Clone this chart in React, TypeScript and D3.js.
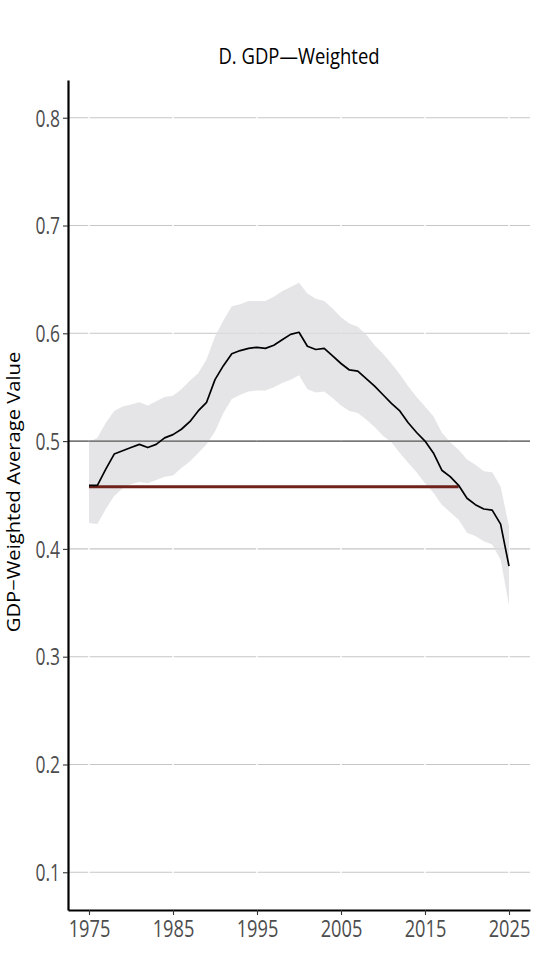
import React, { useEffect, useRef } from 'react';
import * as d3 from 'd3';

// years 1975..2025
const years: number[] = d3.range(1975, 2026);

const meanValues: number[] = [
  0.459, 0.459, 0.474, 0.488, 0.491, 0.494, 0.497, 0.494, 0.497, 0.503,
  0.506, 0.511, 0.518, 0.528, 0.536, 0.557, 0.570, 0.581, 0.584, 0.586,
  0.587, 0.586, 0.589, 0.594, 0.599, 0.601, 0.588, 0.585, 0.586, 0.579,
  0.572, 0.566, 0.565, 0.558, 0.551, 0.543, 0.535, 0.528, 0.517, 0.508,
  0.500, 0.489, 0.473, 0.467, 0.459, 0.447, 0.441, 0.437, 0.436, 0.423,
  0.384,
];

const upperValues: number[] = [
  0.499, 0.503, 0.517, 0.528, 0.532, 0.534, 0.536, 0.533, 0.537, 0.541,
  0.542, 0.548, 0.556, 0.563, 0.576, 0.597, 0.612, 0.625, 0.627, 0.630,
  0.630, 0.630, 0.634, 0.639, 0.643, 0.647, 0.637, 0.632, 0.630, 0.623,
  0.615, 0.609, 0.606, 0.599, 0.589, 0.581, 0.572, 0.562, 0.551, 0.541,
  0.532, 0.523, 0.508, 0.499, 0.492, 0.483, 0.478, 0.472, 0.471, 0.458,
  0.421,
];

const lowerValues: number[] = [
  0.424, 0.423, 0.437, 0.449, 0.456, 0.460, 0.462, 0.461, 0.464, 0.467,
  0.468, 0.475, 0.481, 0.489, 0.497, 0.509, 0.526, 0.539, 0.543, 0.546,
  0.547, 0.547, 0.550, 0.554, 0.557, 0.561, 0.548, 0.545, 0.546, 0.540,
  0.533, 0.528, 0.526, 0.520, 0.513, 0.505, 0.499, 0.489, 0.480, 0.471,
  0.461, 0.452, 0.441, 0.434, 0.427, 0.415, 0.412, 0.407, 0.404, 0.390,
  0.348,
];

const baselineValue = 0.4577;
const baselineYears: number[] = [1975, 2019];
const referenceValue = 0.5;

const yTicks: number[] = [0.1, 0.2, 0.3, 0.4, 0.5, 0.6, 0.7, 0.8];
const xTicks: number[] = [1975, 1985, 1995, 2005, 2015, 2025];

const title = 'D. GDP\u2014Weighted';
const yTitle = 'GDP\u2212Weighted Average Value';

// no condensed font installed, so squeeze Open Sans horizontally
const FONT = '"Open Sans", "DejaVu Sans", sans-serif';
const SQUEEZE = 0.76;

const App: React.FC = () => {
  const svgRef = useRef<SVGSVGElement>(null);
  const width = 558;
  const height = 964;
  const left = 68;
  const right = 530;
  const top = 80;
  const bottom = 910;

  useEffect(() => {
    document.body.style.margin = '0';
    const svg = d3.select(svgRef.current);
    svg.selectAll('*').remove();

    const x = d3.scaleLinear().domain([1972.5, 2027.5]).range([left, right]);
    const y = d3.scaleLinear().domain([0.065, 0.835]).range([bottom, top]);

    const rows = years.map((yr, i) => ({
      year: yr,
      mean: meanValues[i],
      lo: lowerValues[i],
      hi: upperValues[i],
    }));

    // horizontal grid
    svg
      .append('g')
      .selectAll('line')
      .data(yTicks)
      .enter()
      .append('line')
      .attr('x1', left)
      .attr('x2', right)
      .attr('y1', d => y(d))
      .attr('y2', d => y(d))
      .attr('stroke', '#c6c6c6')
      .attr('stroke-width', 1.1);

    // white vertical grid (cuts the horizontal ones)
    svg
      .append('g')
      .selectAll('line')
      .data(xTicks)
      .enter()
      .append('line')
      .attr('x1', d => x(d))
      .attr('x2', d => x(d))
      .attr('y1', top)
      .attr('y2', bottom)
      .attr('stroke', '#ffffff')
      .attr('stroke-width', 1.5);

    // confidence band
    const area = d3
      .area<{ year: number; lo: number; hi: number }>()
      .x(d => x(d.year))
      .y0(d => y(d.lo))
      .y1(d => y(d.hi));

    svg
      .append('path')
      .datum(rows)
      .attr('d', area)
      .attr('fill', '#dcdce0')
      .attr('fill-opacity', 0.75);

    // reference line at 0.5
    svg
      .append('line')
      .attr('x1', left)
      .attr('x2', right)
      .attr('y1', y(referenceValue))
      .attr('y2', y(referenceValue))
      .attr('stroke', '#5a5a5a')
      .attr('stroke-width', 1.1);

    // baseline (dark red)
    svg
      .append('line')
      .attr('x1', x(baselineYears[0]))
      .attr('x2', x(baselineYears[1]))
      .attr('y1', y(baselineValue))
      .attr('y2', y(baselineValue))
      .attr('stroke', '#6e2219')
      .attr('stroke-width', 3);

    // mean line
    const line = d3
      .line<{ year: number; mean: number }>()
      .x(d => x(d.year))
      .y(d => y(d.mean));

    svg
      .append('path')
      .datum(rows)
      .attr('d', line)
      .attr('fill', 'none')
      .attr('stroke', '#000')
      .attr('stroke-width', 1.7)
      .attr('stroke-linejoin', 'round');

    // axes
    const yAxis = svg
      .append('g')
      .attr('transform', `translate(${left},0)`)
      .call(
        d3
          .axisLeft(y)
          .tickValues(yTicks)
          .tickFormat(d3.format('.1f'))
          .tickSize(5)
          .tickSizeOuter(0)
      );
    yAxis.select('.domain').attr('stroke', '#000').attr('stroke-width', 2.2);
    yAxis.selectAll('.tick line').attr('stroke', '#333').attr('stroke-width', 1.1);
    yAxis
      .selectAll('.tick text')
      .attr('x', -8 / SQUEEZE)
      .attr('dy', '0.36em')
      .attr('transform', `scale(${SQUEEZE},1)`)
      .style('font-family', FONT)
      .style('font-size', '23px')
      .attr('fill', '#4d4d4d');

    const xAxis = svg
      .append('g')
      .attr('transform', `translate(0,${bottom})`)
      .call(
        d3
          .axisBottom(x)
          .tickValues(xTicks)
          .tickFormat(d3.format('d'))
          .tickSize(5)
          .tickSizeOuter(0)
      );
    xAxis.select('.domain').attr('stroke', '#000').attr('stroke-width', 2.2);
    xAxis.selectAll('.tick line').attr('stroke', '#333').attr('stroke-width', 1.1);
    xAxis
      .selectAll('.tick text')
      .attr('y', 27)
      .attr('dy', null)
      .attr('transform', `scale(${SQUEEZE},1)`)
      .style('font-family', FONT)
      .style('font-size', '24px')
      .attr('fill', '#4d4d4d');

    // title
    svg
      .append('text')
      .attr('transform', `translate(${(left + right) / 2},64) scale(0.84,1)`)
      .attr('text-anchor', 'middle')
      .style('font-family', FONT)
      .style('font-size', '22px')
      .attr('fill', '#000')
      .text(title);

    // y title
    svg
      .append('text')
      .attr('transform', `translate(20,492) rotate(-90) scale(1.12,1)`)
      .attr('text-anchor', 'middle')
      .style('font-family', FONT)
      .style('font-size', '18px')
      .attr('fill', '#000')
      .text(yTitle);
  }, []);

  return (
    <svg
      ref={svgRef}
      width={width}
      height={height}
      style={{ display: 'block', background: '#fff' }}
    />
  );
};

export default App;
